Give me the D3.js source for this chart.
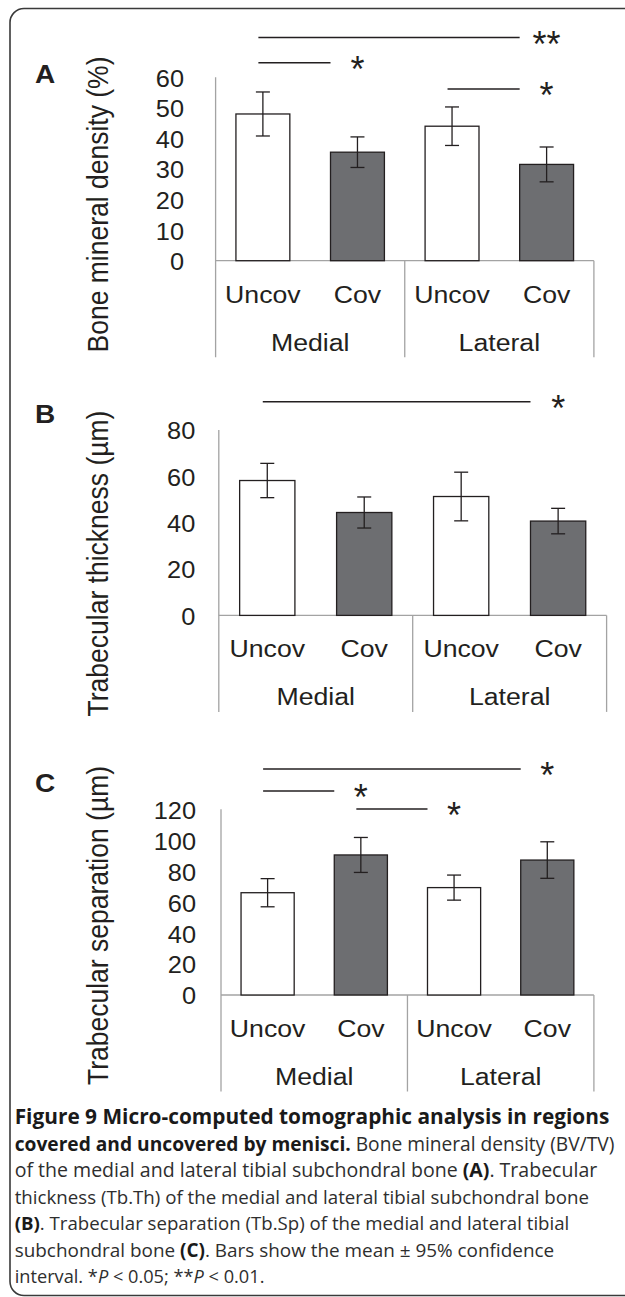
<!DOCTYPE html>
<html><head><meta charset="utf-8">
<script src="https://cdn.jsdelivr.net/npm/d3@7"></script>
<style>body{margin:0;background:#fff}svg{display:block}</style>
</head><body>
<svg id="c" width="625" height="1297"></svg>
<script>
// ---------- data ----------
const categories = ["Uncov", "Cov", "Uncov", "Cov"];
const groups = ["Medial", "Lateral"];
const covered = [false, true, false, true];

const bmdMean = [48.0, 35.5, 44.0, 31.5];
const bmdCI   = [7.2, 5.0, 6.3, 5.7];
const bmdTicks = [0, 10, 20, 30, 40, 50, 60];
const bmdSig = [[0, 3, "**", 73], [0, 1, "*", 64.8], [2, 3, "*", 56.2]];

const tbThMean = [58.2, 44.4, 51.3, 40.7];
const tbThCI   = [7.4, 6.7, 10.5, 5.5];
const tbThTicks = [0, 20, 40, 60, 80];
const tbThSig = [[0, 3, "*", 92.2]];

const tbSpMean = [66.1, 90.5, 69.4, 87.2];
const tbSpCI   = [9.1, 11.3, 8.1, 11.8];
const tbSpTicks = [0, 20, 40, 60, 80, 100, 120];
const tbSpSig = [[0, 3, "*", 146], [0, 1, "*", 131.8], [1, 2, "*", 120.2]];

const caption = [
  [["Figure 9 Micro-computed tomographic analysis in regions", "b"]],
  [["covered and uncovered by menisci.", "b"], [" Bone mineral density (BV/TV)", ""]],
  [["of the medial and lateral tibial subchondral bone ", ""], ["(A)", "b"], [". Trabecular", ""]],
  [["thickness (Tb.Th) of the medial and lateral tibial subchondral bone", ""]],
  [["(B)", "b"], [". Trabecular separation (Tb.Sp) of the medial and lateral tibial", ""]],
  [["subchondral bone ", ""], ["(C)", "b"], [". Bars show the mean \u00b1 95% confidence", ""]],
  [["interval. *", ""], ["P", "i"], [" < 0.05; **", ""], ["P", "i"], [" < 0.01.", ""]]
];
const captionWidths = [595, 600, 583, 575, 555, 540, 250];

// ---------- layout ----------
const panels = [
  {letter: "A", title: "Bone mineral density (%)", mean: bmdMean, ci: bmdCI, ticks: bmdTicks, sig: bmdSig,
   left: 215.6, right: 593.9, top: 77.3, bottom: 260.7, labelRight: 184, titleY: 204.5, letterY: 82.7},
  {letter: "B", title: "Trabecular thickness (\u00b5m)", mean: tbThMean, ci: tbThCI, ticks: tbThTicks, sig: tbThSig,
   left: 218.8, right: 606.6, top: 430, bottom: 615.4, labelRight: 195.3, titleY: 563.5, letterY: 423.3},
  {letter: "C", title: "Trabecular separation (\u00b5m)", mean: tbSpMean, ci: tbSpCI, ticks: tbSpTicks, sig: tbSpSig,
   left: 221, right: 593.9, top: 809.3, bottom: 995, labelRight: 196, titleY: 925.5, letterY: 792}
];

const FONT = "'Liberation Sans', Arial, Helvetica, sans-serif";
const INK = "#231f20";
const AXIS = "#a3a3a3";
const GRAY = "#6d6e71";
const SX = 1.08;

const svg = d3.select("#c");

// border
svg.append("rect").attr("x", 10).attr("y", 8.5).attr("width", 660).attr("height", 1287)
  .attr("rx", 14).attr("fill", "none").attr("stroke", "#3a3a3a").attr("stroke-width", 1.6);

function txt(g, x, y, s, o) {
  o = o || {};
  return g.append("text")
    .attr("transform", `translate(${x},${y}) scale(${o.sx || SX},1)` + (o.rot ? " rotate(-90)" : ""))
    .attr("font-family", FONT)
    .attr("font-size", o.size || 24.7)
    .attr("font-weight", o.bold ? "bold" : "normal")
    .attr("text-anchor", o.anchor || "middle")
    .attr("fill", INK)
    .text(s);
}

panels.forEach(p => {
  const g = svg.append("g");
  const ymax = p.ticks[p.ticks.length - 1];
  const y = d3.scaleLinear().domain([0, ymax]).range([p.bottom, p.top]);
  const x = d3.scaleBand().domain(d3.range(categories.length)).range([p.left, p.right])
    .paddingInner(0.43).paddingOuter(0.215);
  const xg = d3.scaleBand().domain(groups).range([p.left, p.right]);
  const cx = i => x(i) + x.bandwidth() / 2;
  const boxBottom = p.bottom + 96.5;

  // y axis: tick values from the axis generator, drawn as labels only
  const yAxis = d3.axisLeft(y).tickValues(p.ticks).tickSize(0).tickPadding(0);
  const ax = g.append("g").attr("transform", `translate(${p.left},0)`).call(yAxis);
  ax.select(".domain").remove();
  ax.selectAll(".tick text").remove();
  ax.selectAll(".tick").each(function(d) {
    txt(g, p.labelRight, y(d) + 9.4, String(d), {anchor: "end", size: 23.5});
  });

  // axis line + category box
  const boxLines = [
    [p.left, p.top, p.left, boxBottom],
    [p.left, p.bottom, p.right, p.bottom],
    [xg(groups[1]), p.bottom, xg(groups[1]), boxBottom],
    [p.right, p.bottom, p.right, boxBottom]
  ];
  g.selectAll("line.box").data(boxLines).join("line").attr("class", "box")
    .attr("x1", d => d[0]).attr("y1", d => d[1]).attr("x2", d => d[2]).attr("y2", d => d[3])
    .attr("stroke", AXIS).attr("stroke-width", 1.3);

  // bars
  g.selectAll("rect.bar").data(p.mean).join("rect").attr("class", "bar")
    .attr("x", (d, i) => x(i)).attr("width", x.bandwidth())
    .attr("y", d => y(d)).attr("height", d => y(0) - y(d))
    .attr("fill", (d, i) => covered[i] ? GRAY : "#ffffff")
    .attr("stroke", INK).attr("stroke-width", 1.3);

  // error bars
  const eb = g.selectAll("g.eb").data(p.mean).join("g").attr("class", "eb")
    .attr("stroke", INK).attr("stroke-width", 1.3);
  eb.append("line").attr("x1", (d, i) => cx(i)).attr("x2", (d, i) => cx(i))
    .attr("y1", (d, i) => y(d - p.ci[i])).attr("y2", (d, i) => y(d + p.ci[i]));
  eb.append("line").attr("x1", (d, i) => cx(i) - 7).attr("x2", (d, i) => cx(i) + 7)
    .attr("y1", (d, i) => y(d + p.ci[i])).attr("y2", (d, i) => y(d + p.ci[i]));
  eb.append("line").attr("x1", (d, i) => cx(i) - 7).attr("x2", (d, i) => cx(i) + 7)
    .attr("y1", (d, i) => y(d - p.ci[i])).attr("y2", (d, i) => y(d - p.ci[i]));

  // category labels
  categories.forEach((c, i) => txt(g, cx(i), p.bottom + 42, c));
  groups.forEach(gr => txt(g, xg(gr) + xg.bandwidth() / 2, p.bottom + 89.8, gr));

  // significance lines
  p.sig.forEach(s => {
    const [a, b, lab, lvl] = s;
    g.append("line").attr("x1", cx(a) - 4.5).attr("x2", x(b)).attr("y1", y(lvl)).attr("y2", y(lvl))
      .attr("stroke", INK).attr("stroke-width", 1.5);
    txt(g, cx(b), y(lvl) + 19, lab, {size: 36, sx: 1});
  });

  // y title
  txt(g, 107.6, p.titleY, p.title, {rot: true, size: 26.5});
  // panel letter
  txt(g, 35, p.letterY, p.letter, {anchor: "start", bold: true, size: 25, sx: 1.12});
});

// caption: size each line so its natural width matches the reference
caption.forEach((line, k) => {
  const t = svg.append("text")
    .attr("x", 14.7).attr("y", 1124.3 + k * 26.5)
    .attr("font-family", "'Open Sans', 'Noto Sans', sans-serif")
    .attr("font-size", 20)
    .attr("fill", "#2e2e2e");
  line.forEach(seg => {
    t.append("tspan")
      .attr("font-weight", seg[1] === "b" ? "bold" : "normal")
      .attr("font-style", seg[1] === "i" ? "italic" : "normal")
      .attr("fill", seg[1] === "b" ? "#1a1a1a" : "#2e2e2e")
      .text(seg[0]);
  });
  const natural = t.node().getComputedTextLength();
  t.attr("font-size", (20 * captionWidths[k] / natural).toFixed(2));
});
</script>
</body></html>
